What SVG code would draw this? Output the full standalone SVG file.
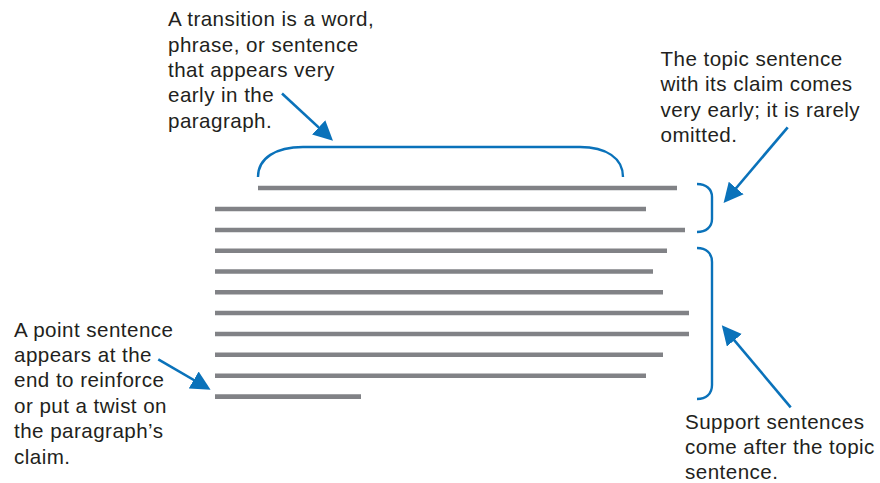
<svg xmlns="http://www.w3.org/2000/svg" width="880" height="483" viewBox="0 0 880 483">
  <style>
    .label { font-family: "Liberation Sans", Arial, sans-serif; font-size: 20.6px; letter-spacing: 0.45px; fill: #231f20; }
    .bar { stroke: #818286; stroke-width: 4.6; fill: none; }
    .brace { stroke: #0a72ba; stroke-width: 2.4; fill: none; }
    .arrow { stroke: #0a72ba; stroke-width: 2.6; fill: none; marker-end: url(#head); }
  </style>
  <defs>
    <marker id="head" markerUnits="userSpaceOnUse" markerWidth="20" markerHeight="20" refX="15" refY="9.75" orient="auto">
      <path d="M0,0 L19.5,9.75 L0,19.5 z" fill="#0a72ba"/>
    </marker>
  </defs>
  <rect width="880" height="483" fill="#ffffff"/>

  <!-- paragraph lines -->
  <g id="paragraph">
    <line class="bar" x1="258" y1="188" x2="677" y2="188"/>
    <line class="bar" x1="215" y1="209" x2="646" y2="209"/>
    <line class="bar" x1="215" y1="230" x2="685" y2="230"/>
    <line class="bar" x1="215" y1="250.8" x2="667" y2="250.8"/>
    <line class="bar" x1="215" y1="271.5" x2="653" y2="271.5"/>
    <line class="bar" x1="215" y1="292.3" x2="663" y2="292.3"/>
    <line class="bar" x1="215" y1="313" x2="689" y2="313"/>
    <line class="bar" x1="215" y1="334" x2="689" y2="334"/>
    <line class="bar" x1="215" y1="354.8" x2="663" y2="354.8"/>
    <line class="bar" x1="215" y1="375.7" x2="646" y2="375.7"/>
    <line class="bar" x1="215" y1="396.6" x2="361" y2="396.6"/>
  </g>

  <!-- transition note -->
  <g id="transition">
    <path class="brace" d="M258,177 C258,158 276,147 303,147 L580,147 C606,147 623,158 623,177"/>
    <text class="label">
      <tspan x="168" y="26">A transition is a word,</tspan>
      <tspan x="168" y="51.5">phrase, or sentence</tspan>
      <tspan x="168" y="77">that appears very</tspan>
      <tspan x="168" y="102.3">early in the</tspan>
      <tspan x="168" y="127.7">paragraph.</tspan>
    </text>
  </g>

  <!-- topic sentence note -->
  <g id="topic">
    <path class="brace" d="M697,184 C706,184 712,189 712,197 L712,219 C712,227 706,232 697,232"/>
    <text class="label">
      <tspan x="660.5" y="66">The topic sentence</tspan>
      <tspan x="660.5" y="91.3">with its claim comes</tspan>
      <tspan x="660.5" y="116.5">very early; it is rarely</tspan>
      <tspan x="660.5" y="141.8">omitted.</tspan>
    </text>
  </g>

  <!-- support sentences note -->
  <g id="support">
    <path class="brace" d="M697,248 C706,248 712,253 712,262 L712,385 C712,394 706,399 697,399"/>
    <text class="label">
      <tspan x="685" y="429">Support sentences</tspan>
      <tspan x="685" y="454">come after the topic</tspan>
      <tspan x="685" y="478.5">sentence.</tspan>
    </text>
  </g>

  <!-- point sentence note -->
  <g id="point">
    <text class="label">
      <tspan x="14" y="336.7">A point sentence</tspan>
      <tspan x="14" y="362">appears at the</tspan>
      <tspan x="14" y="387.4">end to reinforce</tspan>
      <tspan x="14" y="412.8">or put a twist on</tspan>
      <tspan x="14" y="438.2">the paragraph’s</tspan>
      <tspan x="14" y="463.6">claim.</tspan>
    </text>
  </g>

  <!-- connectors -->
  <g id="connectors">
    <line class="arrow" x1="282" y1="93.5" x2="329.7" y2="137.6"/>
    <line class="arrow" x1="787.7" y1="127.3" x2="726.5" y2="199.5"/>
    <line class="arrow" x1="790.7" y1="407.3" x2="724.7" y2="328.8"/>
    <line class="arrow" x1="158.3" y1="359.3" x2="206.7" y2="387.5"/>
  </g>
</svg>
